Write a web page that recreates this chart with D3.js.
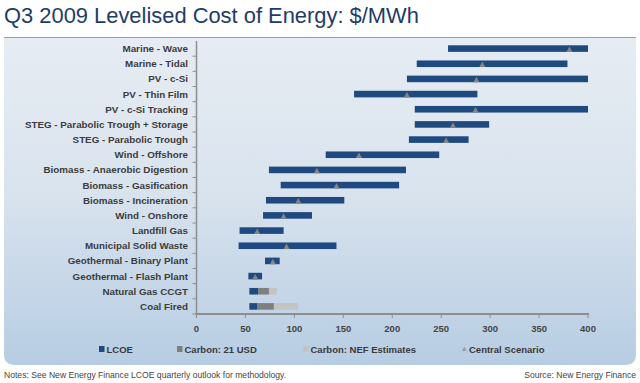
<!DOCTYPE html>
<html><head><meta charset="utf-8">
<script src="https://cdn.jsdelivr.net/npm/d3@7/dist/d3.min.js"></script>
<style>body{margin:0;background:#fff;}svg{display:block;}</style>
</head><body>
<svg id="c" width="640" height="383"></svg>
<script>
const categories = ["Marine - Wave","Marine - Tidal","PV - c-Si","PV - Thin Film","PV - c-Si Tracking",
 "STEG - Parabolic Trough + Storage","STEG - Parabolic Trough","Wind - Offshore","Biomass - Anaerobic Digestion",
 "Biomass - Gasification","Biomass - Incineration","Wind - Onshore","Landfill Gas","Municipal Solid Waste",
 "Geothermal - Binary Plant","Geothermal - Flash Plant","Natural Gas CCGT","Coal Fired"];
const lcoeLow  = [257,225,215,161,223,223,217,132,74,86,71,68,44,43,70,53,54,54];
const lcoeHigh = [400,379,400,287,400,299,278,248,214,207,151,118,89,143,85,67,63,62];
const central  = [381,292,286,215,285,262,255,166,123,143,104,89,62,92,78,60,null,null];
const carbon21High = [null,null,null,null,null,null,null,null,null,null,null,null,null,null,null,null,74,79];
const carbonNefHigh = [null,null,null,null,null,null,null,null,null,null,null,null,null,null,null,null,82,104];
const xTicks = [0,50,100,150,200,250,300,350,400];
const legendItems = ["LCOE","Carbon: 21 USD","Carbon: NEF Estimates","Central Scenario"];

const svg = d3.select("#c");
const defs = svg.append("defs");
const g = defs.append("linearGradient").attr("id","bg").attr("x1",0).attr("y1",0).attr("x2",0).attr("y2",1);
g.append("stop").attr("offset","0%").attr("stop-color","#e6ecf3");
g.append("stop").attr("offset","45%").attr("stop-color","#dae4ee");
g.append("stop").attr("offset","100%").attr("stop-color","#b7cde3");

svg.append("text").attr("x",4).attr("y",23).attr("font-family","Liberation Sans, Arial, sans-serif")
  .attr("font-size",21.9).attr("fill","#1f3c68").text("Q3 2009 Levelised Cost of Energy: $/MWh");

// panel
svg.append("path").attr("fill","url(#bg)")
  .attr("d","M4,37 H636 V354 Q636,365 625,365 H15 Q4,365 4,354 Z");
svg.append("line").attr("x1",4).attr("x2",636).attr("y1",37.5).attr("y2",37.5)
  .attr("stroke","#78a5d5").attr("stroke-width",1.2);

const x = d3.scaleLinear().domain([0,400]).range([196.5,588]);
const y = d3.scalePoint().domain(categories).range([41,314]).padding(0.5);
const step = y.step();
const bh = 6.6;

// axes
const axisColor = "#8e8e8e";
svg.append("line").attr("x1",x(0)).attr("x2",x(0)).attr("y1",41).attr("y2",314.5).attr("stroke",axisColor).attr("stroke-width",1.5);
svg.append("line").attr("x1",x(0)-1).attr("x2",x(400)+1).attr("y1",314).attr("y2",314).attr("stroke",axisColor).attr("stroke-width",2);
svg.selectAll(".yt").data(categories).enter().append("line")
  .attr("x1",x(0)-4).attr("x2",x(0)).attr("y1",d=>y(d)+step/2).attr("y2",d=>y(d)+step/2)
  .attr("stroke",axisColor).attr("stroke-width",1);
svg.selectAll(".xt").data(xTicks).enter().append("line")
  .attr("x1",d=>x(d)).attr("x2",d=>x(d)).attr("y1",314).attr("y2",318).attr("stroke",axisColor).attr("stroke-width",1);
svg.selectAll(".xl").data(xTicks).enter().append("text")
  .attr("x",d=>x(d)).attr("y",332).attr("text-anchor","middle")
  .attr("font-family","Liberation Sans, Arial, sans-serif").attr("font-weight","bold").attr("font-size",9.5)
  .attr("fill","#444").text(d=>d);

// category labels
svg.selectAll(".cl").data(categories).enter().append("text")
  .attr("x",188).attr("y",d=>y(d)+3.5).attr("text-anchor","end")
  .attr("font-family","Liberation Sans, Arial, sans-serif").attr("font-weight","bold").attr("font-size",9.8)
  .attr("fill","#3c3c3c").text(d=>d);

const idx = categories.map((c,i)=>i);
// carbon NEF
svg.selectAll(".nef").data(idx.filter(i=>carbonNefHigh[i]!=null)).enter().append("rect")
  .attr("x",i=>x(carbon21High[i])).attr("width",i=>x(carbonNefHigh[i])-x(carbon21High[i]))
  .attr("y",i=>y(categories[i])-bh/2).attr("height",bh).attr("fill","#c3c3c3");
svg.selectAll(".c21").data(idx.filter(i=>carbon21High[i]!=null)).enter().append("rect")
  .attr("x",i=>x(lcoeHigh[i])).attr("width",i=>x(carbon21High[i])-x(lcoeHigh[i]))
  .attr("y",i=>y(categories[i])-bh/2).attr("height",bh).attr("fill","#7f7f7f");
svg.selectAll(".lc").data(idx).enter().append("rect")
  .attr("x",i=>x(lcoeLow[i])).attr("width",i=>x(lcoeHigh[i])-x(lcoeLow[i]))
  .attr("y",i=>y(categories[i])-bh/2).attr("height",bh).attr("fill","#1f4a80");
svg.selectAll(".tri").data(idx.filter(i=>central[i]!=null)).enter().append("path")
  .attr("d",i=>{const cx=x(central[i]), by=y(categories[i])+bh/2; return `M${cx-3},${by} L${cx+3},${by} L${cx},${by-5.5} Z`;})
  .attr("fill","#858585");

// legend
const lg = svg.append("g").attr("font-family","Liberation Sans, Arial, sans-serif").attr("font-weight","bold")
  .attr("font-size",9.5).attr("fill","#3a3a3a");
const lx = [99,177,303,462];
const lcol = ["#1f4a80","#7f7f7f","#c3c3c3","#9a9a9a"];
legendItems.forEach((t,i)=>{
  if(i<3) lg.append("rect").attr("x",lx[i]).attr("y",346).attr("width",5.5).attr("height",6).attr("fill",lcol[i]);
  else lg.append("path").attr("d",`M${lx[i]},351 L${lx[i]+4.5},351 L${lx[i]+2.25},346.5 Z`).attr("fill",lcol[i]);
  lg.append("text").attr("x",lx[i]+(i==3?7:7.5)).attr("y",352.5).text(t);
});

svg.append("text").attr("x",4).attr("y",378).attr("font-family","Liberation Sans, Arial, sans-serif")
  .attr("font-size",8.6).attr("fill","#444").text("Notes: See New Energy Finance LCOE quarterly outlook for methodology.");
svg.append("text").attr("x",636).attr("y",378).attr("text-anchor","end").attr("font-family","Liberation Sans, Arial, sans-serif")
  .attr("font-size",8.6).attr("fill","#444").text("Source: New Energy Finance");
</script>
</body></html>
